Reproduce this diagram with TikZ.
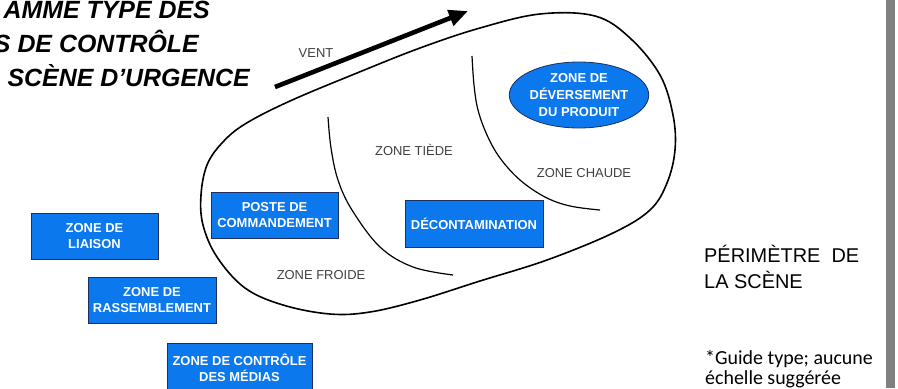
\documentclass[tikz,border=0pt]{standalone}
\usepackage{fontspec}
\setmainfont{Liberation Sans}
\newfontfamily\notefont{Carlito}
\usetikzlibrary{arrows.meta,shapes.geometric}
\definecolor{zoneblue}{HTML}{0B78EE}
\definecolor{zoneedge}{HTML}{1C2F5E}
\definecolor{labelgray}{HTML}{3F3F3F}
\definecolor{bargray}{HTML}{808080}
\tikzset{
  zonebox/.style={rectangle, fill=zoneblue, draw=zoneedge, line width=0.8bp,
    text=white, font=\bfseries\fontsize{13}{16.5}\selectfont, align=center, inner sep=0pt},
  spillzone/.style={zonebox, ellipse, font=\bfseries\fontsize{13}{17.5}\selectfont},
  zonelab/.style={text=labelgray, font=\fontsize{13}{15}\selectfont, inner sep=0pt},
  titleline/.style={anchor=base east, inner sep=0pt, font=\bfseries\itshape\fontsize{25}{25}\selectfont},
  sidenote/.style={anchor=base west, inner sep=0pt, font=\fontsize{20}{24}\selectfont},
  perimeter/.style={line width=1.6bp},
  boundary/.style={line width=1.2bp},
}

\begin{document}
\begin{tikzpicture}[x=1bp, y=-1bp]
  \useasboundingbox (0,0) rectangle (898,388);
  \fill[bargray] (886,0) rectangle (895,388);

  % title (cut at the left border)
  \node[titleline] (title1) at (210,18) {AMME TYPE DES};
  \node[titleline] (title2) at (199,52) {S DE CONTRÔLE};
  \node[titleline] (title3) at (250,86) {SCÈNE D’URGENCE};

  % wind direction
  \coordinate (ventA) at (275,87);
  \coordinate (ventB) at (468,11);
  \draw[line width=4.6bp, -{Triangle[length=19bp,width=16bp]}] (ventA) -- (ventB);
  \node[zonelab] (vent) at (316,53) {VENT};

  % scene perimeter
  \draw[perimeter] plot[smooth cycle, tension=0.6] coordinates {
    (201,195) (207,165) (222,143) (245,124) (290,101) (357,73) (420,48)
    (480,28) (540,14) (595,16) (630,38) (660,75) (673,115) (675,150)
    (667,183) (650,210) (613,233) (547,260) (480,281) (420,300)
    (370,312) (330,314) (283,305) (245,288) (217,257) (203,225)};

  % cold / warm limit
  \draw[boundary] plot[smooth, tension=0.6] coordinates {
    (328,117) (331,148) (338,180) (352,210) (380,247) (413,267) (453,275)};
  % warm / hot limit
  \draw[boundary] plot[smooth, tension=0.6] coordinates {
    (472,56) (474,85) (478,110) (487,135) (500,158) (520,180) (545,197)
    (570,206) (600,210)};

  \node[zonelab] (tiede) at (414,150) {ZONE TIÈDE};
  \node[zonelab] (froide) at (321,275) {ZONE FROIDE};
  \node[zonelab] (chaude) at (584,173) {ZONE CHAUDE};

  % zones
  \node[spillzone, minimum width=128bp, minimum height=66bp] (spill) at (579,95)
    {ZONE DE\\DÉVERSEMENT\\DU PRODUIT};
  \node[zonebox, minimum width=127bp, minimum height=46bp] (poste) at (274.5,215)
    {POSTE DE\\COMMANDEMENT};
  \node[zonebox, minimum width=138bp, minimum height=47bp] (decon) at (474,223.5)
    {DÉCONTAMINATION};
  \node[zonebox, minimum width=127bp, minimum height=46bp] (liaison) at (94.5,236)
    {ZONE DE\\LIAISON};
  \node[zonebox, minimum width=128bp, minimum height=46bp] (rassemb) at (152,300)
    {ZONE DE\\RASSEMBLEMENT};
  \node[zonebox, minimum width=145bp, minimum height=50bp] (medias) at (239.5,368)
    {ZONE DE CONTRÔLE\\DES MÉDIAS};

  % notes on the right
  \node[sidenote] (perim1) at (704,262) {PÉRIMÈTRE\ \ DE};
  \node[sidenote] (perim2) at (704,288) {LA SCÈNE};
  \node[sidenote, font=\notefont\fontsize{20}{24}\selectfont] (note1) at (705,364) {*Guide type; aucune};
  \node[sidenote, font=\notefont\fontsize{20}{24}\selectfont] (note2) at (705,384) {échelle suggérée};
\end{tikzpicture}
\end{document}
